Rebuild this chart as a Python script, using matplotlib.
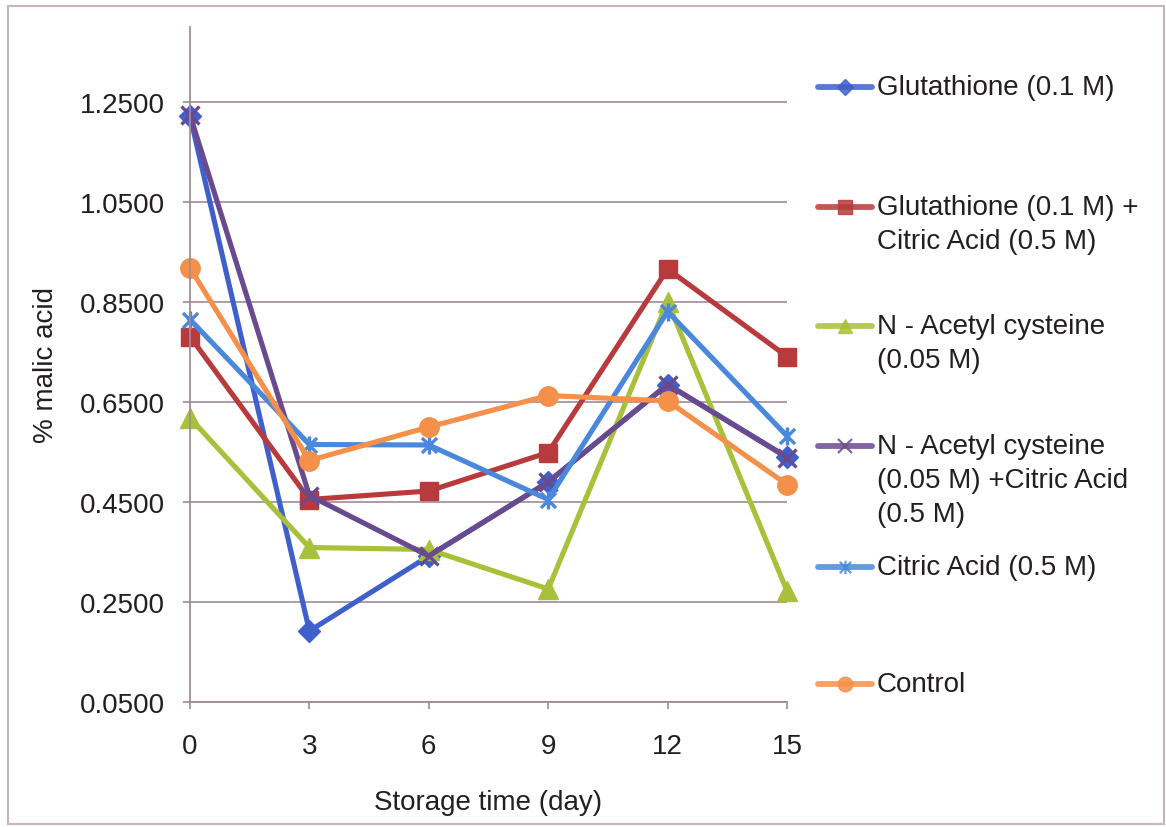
import matplotlib
matplotlib.use("Agg")
import matplotlib.pyplot as plt
from matplotlib.path import Path
from matplotlib.lines import Line2D
from matplotlib.patches import Rectangle

plt.rcParams['font.family'] = ['Liberation Sans', 'DejaVu Sans']

# Storage days and % malic acid for each treatment
days = [0, 3, 6, 9, 12, 15]
glutathione = [1.222, 0.192, 0.342, 0.490, 0.685, 0.540]
glutathione_citric = [0.781, 0.455, 0.472, 0.549, 0.916, 0.741]
nac = [0.618, 0.359, 0.355, 0.276, 0.851, 0.272]
nac_citric = [1.224, 0.463, 0.342, 0.490, 0.685, 0.539]
citric = [0.815, 0.565, 0.564, 0.455, 0.831, 0.582]
control = [0.918, 0.533, 0.600, 0.663, 0.652, 0.485]

labels = [
    "Glutathione (0.1 M)",
    "Glutathione (0.1 M) +\nCitric Acid (0.5 M)",
    "N - Acetyl cysteine\n(0.05 M)",
    "N - Acetyl cysteine\n(0.05 M) +Citric Acid\n(0.5 M)",
    "Citric Acid (0.5 M)",
    "Control",
]
y_ticks = [0.05, 0.25, 0.45, 0.65, 0.85, 1.05, 1.25]
x_ticks = [0, 3, 6, 9, 12, 15]

# Excel-style asterisk: an x with a vertical stroke
star = Path([(-1, -1), (1, 1), (-1, 1), (1, -1), (0, -1.2), (0, 1.2)],
            [Path.MOVETO, Path.LINETO, Path.MOVETO, Path.LINETO, Path.MOVETO, Path.LINETO])

series = [
    (glutathione, '#3F60CA', 'D', 11, 'fill'),
    (glutathione_citric, '#B83A3C', 's', 13, 'fill'),
    (nac, '#A7C13A', '^', 14, 'fill'),
    (nac_citric, '#6A4A8F', 'x', 13, 'edge'),
    (citric, '#4A88DC', star, 13, 'edge'),
    (control, '#F5904A', 'o', 14, 'fill'),
]

W, H = 1166, 828
fig = plt.figure(figsize=(W / 100, H / 100), dpi=100)
fig.patch.set_facecolor('white')

ax = fig.add_axes([190 / W, 1 - 703 / H, (787 - 190) / W, (703 - 28) / H])
grid_c = '#A28A96'
text_c = '#231F20'

for vals, col, mk, ms, kind in series:
    kw = dict(color=col, lw=3.7, marker=mk, markersize=ms, clip_on=False)
    if kind == 'fill':
        kw.update(markerfacecolor=col, markeredgecolor=col)
    else:
        kw.update(markeredgecolor=col, markeredgewidth=2.4)
    ax.plot(days, vals, **kw)

ax.set_xlim(0, 15)
ax.set_ylim(0.05, 1.40)
ax.set_yticks(y_ticks)
ax.set_yticklabels([f"{v:.4f}" for v in y_ticks])
ax.set_xticks(x_ticks)
ax.set_xticklabels([str(v) for v in x_ticks])
ax.yaxis.grid(True, color=grid_c, lw=1.2)
ax.set_axisbelow(True)
for s in ['top', 'right']:
    ax.spines[s].set_visible(False)
for s in ['left', 'bottom']:
    ax.spines[s].set_color(grid_c)
    ax.spines[s].set_linewidth(1.3)
ax.tick_params(axis='y', length=5, width=1.2, color=grid_c, pad=13,
               labelsize=20, labelcolor=text_c)
ax.tick_params(axis='x', length=5, width=1.2, color=grid_c, pad=17,
               labelsize=20, labelcolor=text_c)
ax.set_xlabel("Storage time (day)", fontsize=20, color=text_c, labelpad=22)
ax.set_ylabel("% malic acid", fontsize=20, color=text_c, labelpad=15)

# Legend drawn on an overlay in pixel coordinates
lg = fig.add_axes([0, 0, 1, 1], facecolor='none')
lg.set_xlim(0, W)
lg.set_ylim(H, 0)
lg.axis('off')
entry_y = [88, 208, 327, 447, 568, 685]
line_gap = 34
for (vals, col, mk, ms, kind), lab, y0 in zip(series, labels, entry_y):
    lg.add_line(Line2D([818, 872], [y0, y0], color=col, lw=4.2, alpha=0.85,
                       solid_capstyle='round'))
    mkw = dict(linestyle='none', marker=mk, markersize=ms * 0.75, alpha=0.85)
    if kind == 'fill':
        mkw.update(markerfacecolor=col, markeredgecolor=col)
    else:
        mkw.update(markeredgecolor=col, markeredgewidth=1.6)
    lg.add_line(Line2D([845], [y0], **mkw))
    for i, line in enumerate(lab.split('\n')):
        lg.text(877, y0 + i * line_gap, line, fontsize=20, color=text_c,
                va='center', ha='left')

# Outer chart border
fig.patches.append(Rectangle((8 / W, 1 - 825 / H), (1164 - 8) / W, (825 - 7) / H,
                             transform=fig.transFigure, fill=False,
                             edgecolor='#C9B4BA', lw=1.5))

fig.savefig("out.png", dpi=100, facecolor='white')
